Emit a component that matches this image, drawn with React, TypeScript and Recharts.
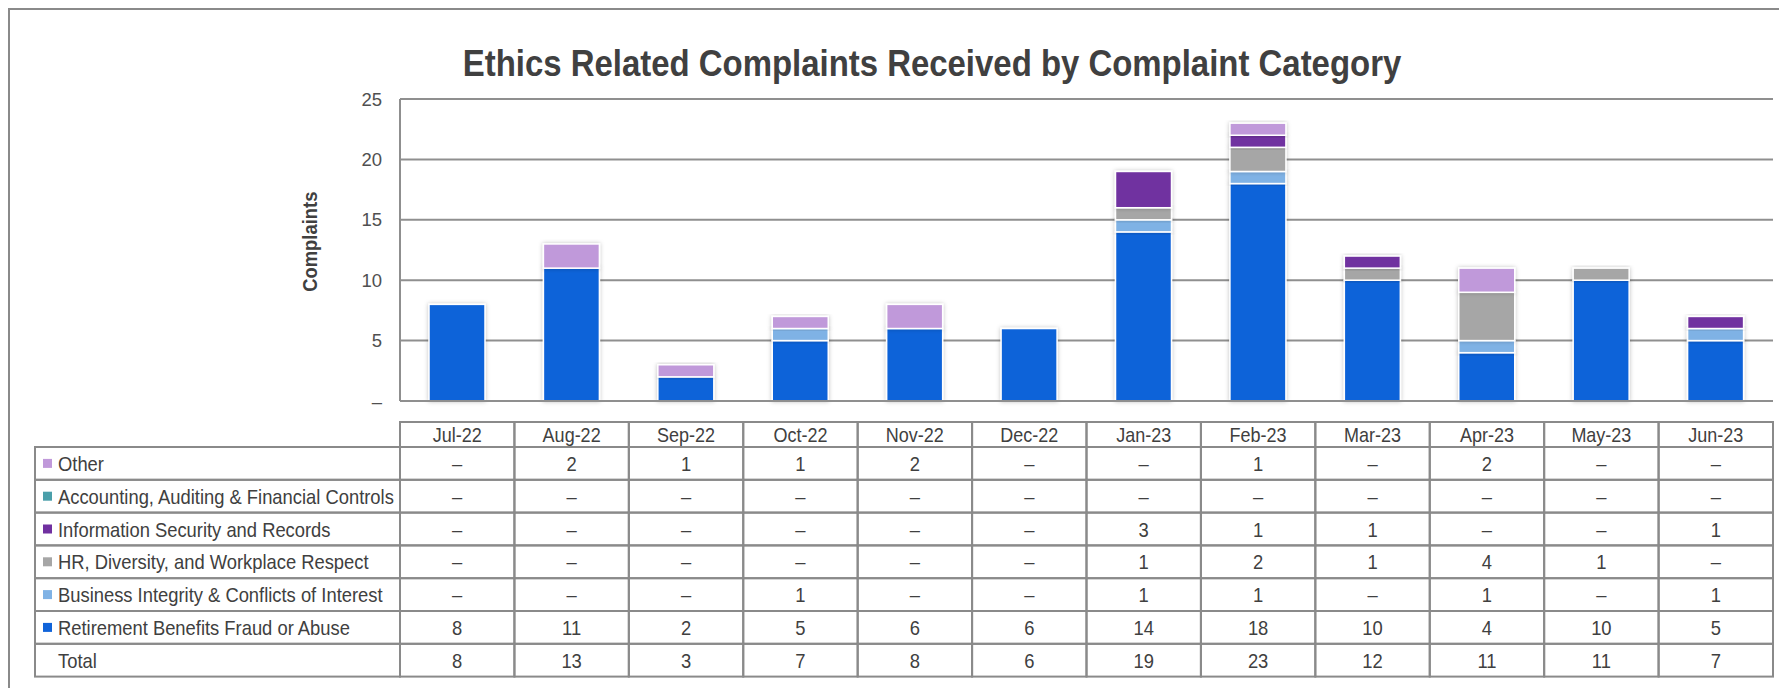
import React from 'react';
import { BarChart, Bar, XAxis, YAxis, CartesianGrid, Customized } from 'recharts';

const MONTHS = ['Jul-22', 'Aug-22', 'Sep-22', 'Oct-22', 'Nov-22', 'Dec-22', 'Jan-23', 'Feb-23', 'Mar-23', 'Apr-23', 'May-23', 'Jun-23'];
const RETIREMENT = [8, 11, 2, 5, 6, 6, 14, 18, 10, 4, 10, 5];
const BUSINESS = [0, 0, 0, 1, 0, 0, 1, 1, 0, 1, 0, 1];
const HR = [0, 0, 0, 0, 0, 0, 1, 2, 1, 4, 1, 0];
const INFOSEC = [0, 0, 0, 0, 0, 0, 3, 1, 1, 0, 0, 1];
const ACCOUNTING = [0, 0, 0, 0, 0, 0, 0, 0, 0, 0, 0, 0];
const OTHER = [0, 2, 1, 1, 2, 0, 0, 1, 0, 2, 0, 0];
const TOTAL = [8, 13, 3, 7, 8, 6, 19, 23, 12, 11, 11, 7];
const Y_TICKS = [0, 5, 10, 15, 20, 25];

const TITLE = 'Ethics Related Complaints Received by Complaint Category';
const Y_TITLE = 'Complaints';

// stacking order: bottom first
const SERIES = [
  { key: 'retirement', name: 'Retirement Benefits Fraud or Abuse', color: '#1063D9', values: RETIREMENT },
  { key: 'business', name: 'Business Integrity & Conflicts of Interest', color: '#7FB2E5', values: BUSINESS },
  { key: 'hr', name: 'HR, Diversity, and Workplace Respect', color: '#A6A6A6', values: HR },
  { key: 'infosec', name: 'Information Security and Records', color: '#7030A0', values: INFOSEC },
  { key: 'accounting', name: 'Accounting, Auditing & Financial Controls', color: '#4A9FAA', values: ACCOUNTING },
  { key: 'other', name: 'Other', color: '#C099DA', values: OTHER },
];

const TABLE_ROWS = [
  ...[...SERIES].reverse().map((s) => ({ name: s.name, color: s.color as string | null, values: s.values })),
  { name: 'Total', color: null as string | null, values: TOTAL },
];

const data = MONTHS.map((m, i) => {
  const row: Record<string, string | number> = { month: m };
  SERIES.forEach((s) => {
    row[s.key] = s.values[i];
  });
  return row;
});

// layout
const W = 1777;
const H = 678;
const PLOT_LEFT = 390;
const PLOT_RIGHT = 1763;
const PLOT_TOP = 89;
const PLOT_BOTTOM = 391;
const COL_W = (PLOT_RIGHT - PLOT_LEFT) / MONTHS.length;
const HEADER_TOP = 412;
const HEADER_BOTTOM = 437;
const ROW_H = 32.8;
const TABLE_LEFT = 25;
const LINE = '#8a8a8a';
const TEXT = '#404040';
const FONT = "'Liberation Sans', Arial, sans-serif";
const TABLE_FS = 21;
const TABLE_SX = 0.875;
const HEAD_FS = 20;
const HEAD_SX = 0.9;

const fmt = (v: number) => (v === 0 ? '\u2013' : String(v));

// horizontally condensed text (the reference uses a narrow face)
const SText = ({
  x,
  y,
  sx,
  anchor,
  fs,
  bold,
  fill,
  children,
}: {
  x: number;
  y: number;
  sx: number;
  anchor?: 'start' | 'middle' | 'end';
  fs: number;
  bold?: boolean;
  fill?: string;
  children: React.ReactNode;
}) => (
  <g transform={`translate(${x},${y}) scale(${sx},1)`}>
    <text x={0} y={0} textAnchor={anchor || 'start'} fontSize={fs} fontWeight={bold ? 'bold' : 'normal'} fill={fill || TEXT} fontFamily={FONT}>
      {children}
    </text>
  </g>
);

const BarShape = (props: any) => {
  const { x, y, width, height, fill } = props;
  if (!height || height <= 0) return null;
  return (
    <rect x={x} y={y} width={width} height={height} fill={fill} stroke="#ffffff" strokeWidth={1.5} filter="url(#barShadow)" />
  );
};

const TableColumn = (props: any) => {
  const { x, payload } = props;
  const i = payload.index;
  const left = x - COL_W / 2;
  return (
    <g>
      <rect x={left} y={HEADER_TOP} width={COL_W} height={HEADER_BOTTOM - HEADER_TOP} fill="none" stroke={LINE} strokeWidth={2} />
      <SText x={x} y={(HEADER_TOP + HEADER_BOTTOM) / 2 + 0.36 * HEAD_FS} sx={HEAD_SX} anchor="middle" fs={HEAD_FS}>
        {payload.value}
      </SText>
      {TABLE_ROWS.map((r, k) => {
        const top = HEADER_BOTTOM + k * ROW_H;
        return (
          <g key={k}>
            <rect x={left} y={top} width={COL_W} height={ROW_H} fill="none" stroke={LINE} strokeWidth={2} />
            <SText x={x} y={top + ROW_H / 2 + 0.36 * TABLE_FS} sx={TABLE_SX} anchor="middle" fs={TABLE_FS}>
              {fmt(r.values[i])}
            </SText>
          </g>
        );
      })}
    </g>
  );
};

const TableLegend = () => (
  <g>
    {TABLE_ROWS.map((r, k) => {
      const top = HEADER_BOTTOM + k * ROW_H;
      const cy = top + ROW_H / 2;
      return (
        <g key={k}>
          <rect x={TABLE_LEFT} y={top} width={PLOT_LEFT - TABLE_LEFT} height={ROW_H} fill="none" stroke={LINE} strokeWidth={2} />
          {r.color && <rect x={TABLE_LEFT + 8} y={cy - 4.5} width={9} height={9} fill={r.color} />}
          <SText x={TABLE_LEFT + 23} y={cy + 0.36 * TABLE_FS} sx={TABLE_SX} fs={TABLE_FS}>
            {r.name}
          </SText>
        </g>
      );
    })}
  </g>
);

const Titles = () => (
  <g>
    <SText x={922} y={66} sx={0.89} anchor="middle" fs={37} bold>
      {TITLE}
    </SText>
    <g transform="translate(300,231.7) rotate(-90) scale(0.92,1)">
      <text x={0} y={0} textAnchor="middle" dominantBaseline="central" fontSize={20} fontWeight="bold" fill={TEXT} fontFamily={FONT}>
        {Y_TITLE}
      </text>
    </g>
  </g>
);

const YTick = (props: any) => {
  const { x, y, payload } = props;
  return (
    <text x={x} y={y + 0.36 * 18.5} textAnchor="end" fontSize={18.5} fill="#505050" fontFamily={FONT}>
      {payload.value === 0 ? '\u2013' : payload.value}
    </text>
  );
};

export default function App() {
  return (
    <div
      style={{
        borderTop: '2px solid #8a8a8a',
        borderLeft: '2px solid #8a8a8a',
        width: 1779,
        height: 680,
        boxSizing: 'border-box',
        background: '#ffffff',
        position: 'relative',
      }}
    >
      <svg width={0} height={0} style={{ position: 'absolute' }}>
        <defs>
          <filter id="barShadow" x="-20%" y="-20%" width="140%" height="140%">
            <feDropShadow dx={0} dy={0} stdDeviation={2} floodColor="#000000" floodOpacity={0.25} />
          </filter>
        </defs>
      </svg>
      <BarChart
        width={W}
        height={H}
        data={data}
        margin={{ top: PLOT_TOP, right: W - PLOT_RIGHT, bottom: 0, left: 0 }}
        barSize={56}
      >
        <CartesianGrid vertical={false} stroke="#8f8f8f" strokeWidth={2} />
        <XAxis
          dataKey="month"
          height={H - PLOT_BOTTOM}
          interval={0}
          tickLine={false}
          tickSize={0}
          axisLine={{ stroke: '#8f8f8f', strokeWidth: 2 }}
          tick={<TableColumn />}
        />
        <YAxis
          width={PLOT_LEFT}
          domain={[0, 25]}
          ticks={Y_TICKS}
          interval={0}
          tickLine={false}
          tickSize={0}
          tickMargin={18}
          axisLine={{ stroke: '#8f8f8f', strokeWidth: 2 }}
          tick={<YTick />}
        />
        {SERIES.map((s) => (
          <Bar
            key={s.key}
            dataKey={s.key}
            name={s.name}
            stackId="a"
            fill={s.color}
            shape={<BarShape />}
            isAnimationActive={false}
          />
        ))}
        <Customized component={TableLegend} />
        <Customized component={Titles} />
      </BarChart>
    </div>
  );
}
